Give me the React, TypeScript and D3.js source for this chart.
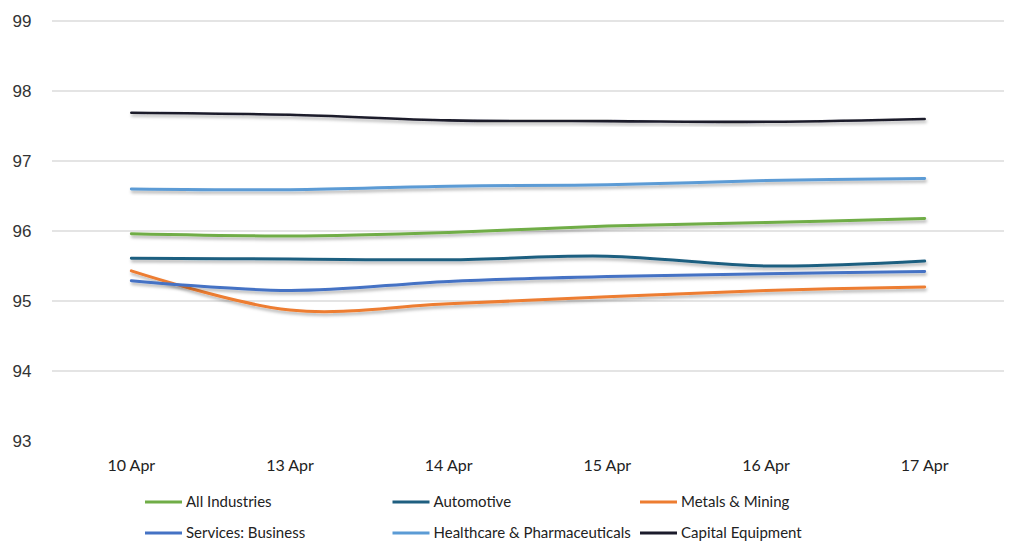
import React from "react";
import * as d3 from "d3";

const dates = ["10 Apr", "13 Apr", "14 Apr", "15 Apr", "16 Apr", "17 Apr"];
const yTicks = [93, 94, 95, 96, 97, 98, 99];

const allIndustries = [95.96, 95.93, 95.98, 96.07, 96.12, 96.18];
const automotive = [95.61, 95.6, 95.59, 95.64, 95.5, 95.57];
const metalsMining = [95.43, 94.87, 94.96, 95.06, 95.15, 95.2];
const servicesBusiness = [95.29, 95.15, 95.28, 95.35, 95.39, 95.42];
const healthcare = [96.6, 96.59, 96.64, 96.66, 96.72, 96.75];
const capitalEquipment = [97.69, 97.66, 97.58, 97.57, 97.56, 97.6];

const seriesNames = [
  "All Industries",
  "Automotive",
  "Metals & Mining",
  "Services: Business",
  "Healthcare & Pharmaceuticals",
  "Capital Equipment",
];
const seriesValues = [allIndustries, automotive, metalsMining, servicesBusiness, healthcare, capitalEquipment];
const colors = ["#70ad47", "#1f5f80", "#ed7d31", "#4472c4", "#5b9bd5", "#1b1b2b"];

const WIDTH = 1024;
const HEIGHT = 558;

const App = () => {
  const x = d3.scalePoint<string>().domain(dates).range([52, 1004]).padding(0.5);
  const y = d3.scaleLinear().domain([93, 99]).range([441, 21]);

  const line = d3
    .line<number>()
    .x((_, i) => x(dates[i])!)
    .y((d) => y(d))
    .curve(d3.curveCatmullRom.alpha(0.5));

  return (
    <svg
      width={WIDTH}
      height={HEIGHT}
      style={{ position: "absolute", left: 0, top: 0, background: "#fff" }}
    >
      <defs>
        <filter id="shadow" x="-5%" y="-50%" width="110%" height="200%">
          <feDropShadow dx="1" dy="2.5" stdDeviation="1.5" floodColor="#000" floodOpacity="0.3" />
        </filter>
      </defs>

      {yTicks.map((t) => (
        <g key={t}>
          {t > 93 && (
            <line x1={52} x2={1004} y1={y(t)} y2={y(t)} stroke="#e4e4e4" strokeWidth={2} />
          )}
          <text
            x={22}
            y={y(t)}
            dy="0.35em"
            textAnchor="middle"
            fontFamily="Liberation Sans, Arial, sans-serif"
            fontSize={17}
            fill="#333"
          >
            {t}
          </text>
        </g>
      ))}

      {dates.map((d) => (
        <text
          key={d}
          x={x(d)}
          y={471}
          textAnchor="middle"
          fontFamily="Lato, Open Sans, sans-serif"
          fontSize={16}
          fill="#222"
        >
          {d}
        </text>
      ))}

      {seriesValues.map((vals, i) => (
        <path
          key={seriesNames[i]}
          d={line(vals)!}
          fill="none"
          stroke={colors[i]}
          strokeWidth={i === 5 ? 2.6 : 3}
          strokeLinecap="round"
          filter="url(#shadow)"
        />
      ))}

      {seriesNames.map((name, i) => {
        const col = i % 3;
        const row = Math.floor(i / 3);
        const lx = 145 + col * 247.5;
        const ly = 502 + row * 31;
        return (
          <g key={name}>
            <line x1={lx} x2={lx + 37} y1={ly} y2={ly} stroke={colors[i]} strokeWidth={3} />
            <text
              x={lx + 41}
              y={ly}
              dy="0.35em"
              fontFamily="Lato, Open Sans, sans-serif"
              fontSize={15}
              fill="#222"
            >
              {name}
            </text>
          </g>
        );
      })}
    </svg>
  );
};

export default App;
